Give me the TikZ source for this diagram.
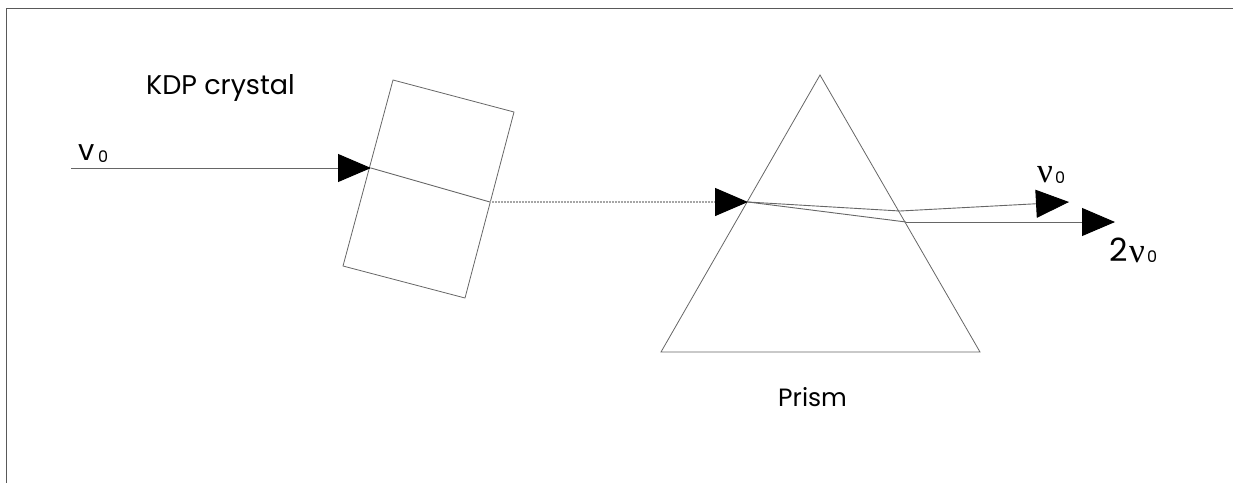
\documentclass[tikz,border=0pt]{standalone}
\usepackage{amsmath}
\usepackage{fontspec}
\setmainfont{Poppins}
\newfontfamily\nufont{Liberation Serif}
\usetikzlibrary{arrows.meta}

\tikzset{
  frameline/.style={draw=black!65,line width=0.9pt},
  outline/.style={draw=black!60,line width=0.8pt},
  ray/.style={draw=black!60,line width=0.9pt},
  faintray/.style={draw=black!35,line width=1.3pt,dash pattern=on 1pt off 0.5pt},
  rayhead/.style={-{Triangle[length=33pt,width=28pt,black]}},
  lbl/.style={inner sep=0pt,anchor=base west,font=\fontsize{25}{30}\selectfont},
  nulbl/.style={inner sep=0pt,anchor=base west,font=\fontsize{35}{40}\nufont},
  sub/.style={inner sep=0pt,anchor=base west,font=\fontsize{16}{18}\selectfont}
}

\begin{document}
\begin{tikzpicture}[x=1pt,y=-1pt]
\useasboundingbox (0,0) rectangle (1233,483);

\coordinate (ftop) at (1233,8);
\coordinate (fcorner) at (6,8);
\coordinate (fbot) at (6,483);
\draw[frameline] (ftop) -- (fcorner) -- (fbot);

\coordinate (c1) at (393,80);
\coordinate (c2) at (514,112);
\coordinate (c3) at (465,298);
\coordinate (c4) at (343,266);
\draw[outline] (c1) -- (c2) -- (c3) -- (c4) -- cycle;

\coordinate (p1) at (820,75);
\coordinate (p2) at (980,352);
\coordinate (p3) at (661,352);
\draw[outline] (p1) -- (p2) -- (p3) -- cycle;

\coordinate (start) at (71,168);
\coordinate (cin) at (371,168);
\coordinate (cout) at (490,202);
\coordinate (pin) at (748,202);
\coordinate (bendA) at (900,211);
\coordinate (tipA) at (1069,202);
\coordinate (bendB) at (906,222);
\coordinate (tipB) at (1115,222);

\path
(start) edge[ray,rayhead] (cin)
(cin) edge[ray] (cout)
(cout) edge[faintray,rayhead] (pin)
(pin) edge[ray] (bendA)
(bendA) edge[ray,rayhead] (tipA)
(pin) edge[ray] (bendB)
(bendB) edge[ray,rayhead] (tipB);

\node[lbl,font=\fontsize{27}{30}\selectfont] (kdp) at (146,94) {KDP crystal};
\node[lbl] (prism) at (778,406) {Prism};

\node[lbl,font=\fontsize{29}{30}\selectfont] (vin) at (78,160) {v};
\node[sub] (vinsub) at (98,162) {0};
\node[nulbl] (vout) at (1037,182) {ν};
\node[sub] (voutsub) at (1055,183) {0};
\node[lbl,font=\fontsize{32}{36}\selectfont] (two) at (1109,261) {2};
\node[nulbl] (vtwo) at (1129,262) {ν};
\node[sub] (vtwosub) at (1147,262) {0};
\end{tikzpicture}
\end{document}
